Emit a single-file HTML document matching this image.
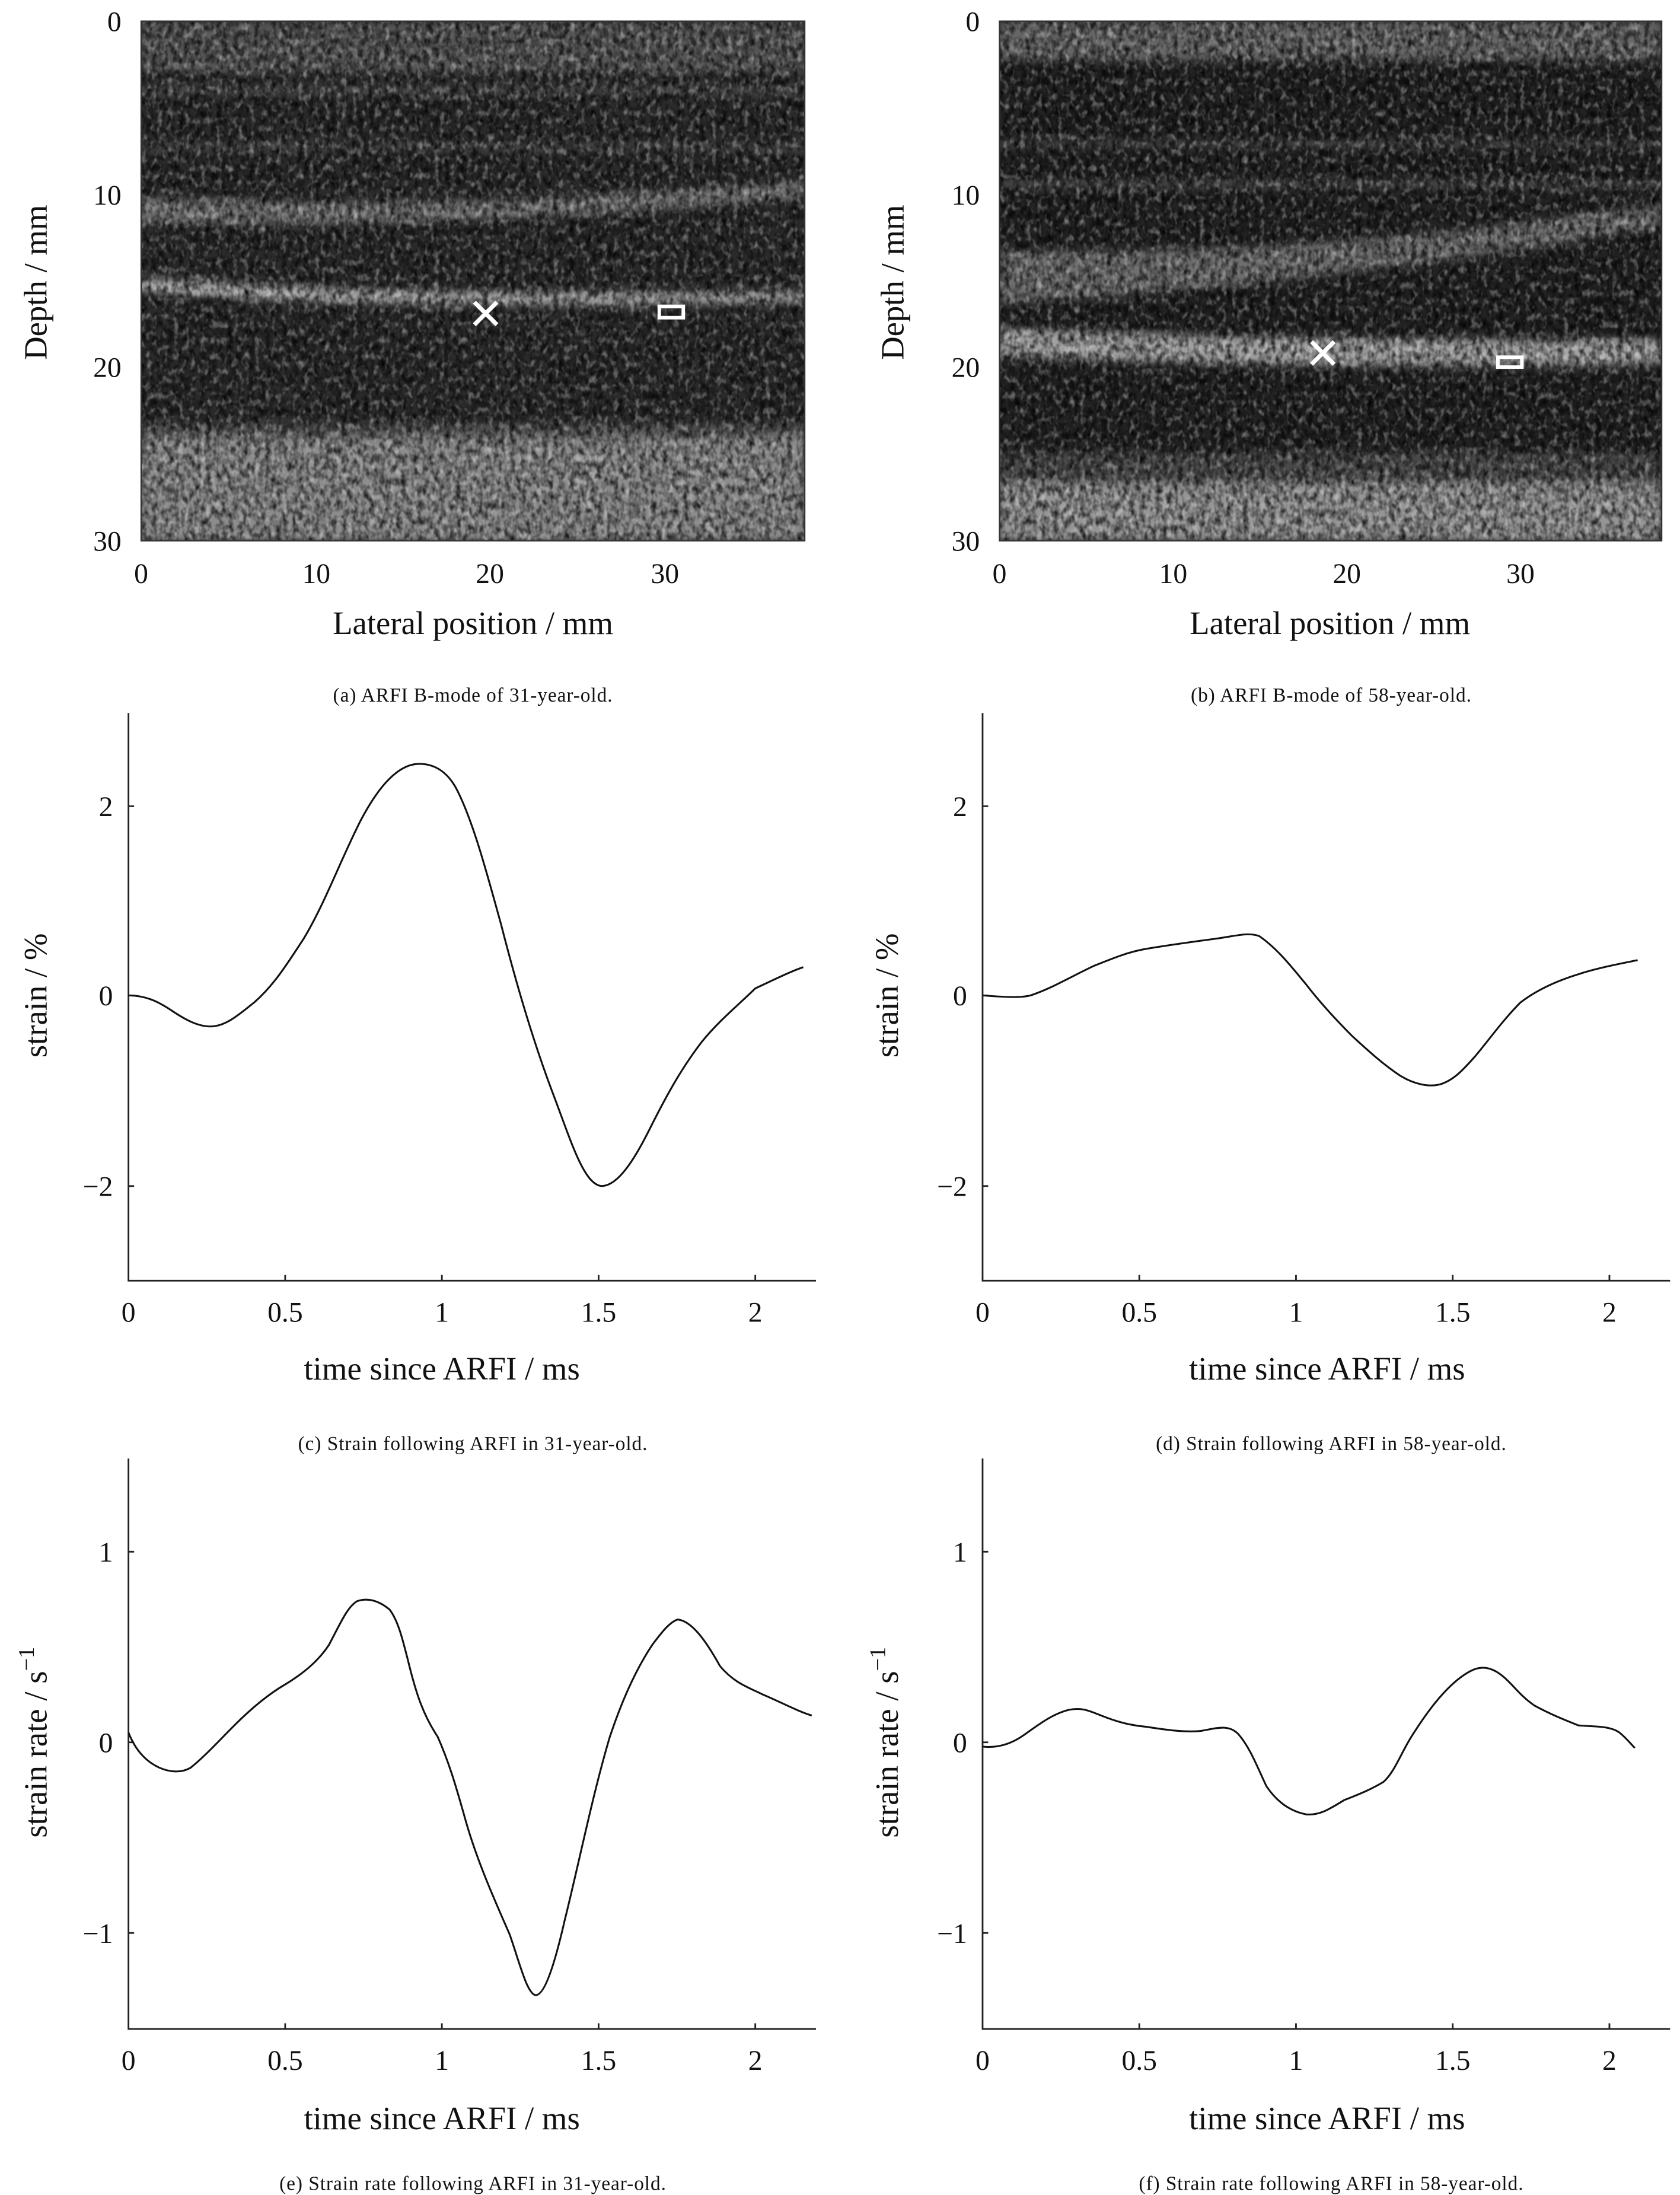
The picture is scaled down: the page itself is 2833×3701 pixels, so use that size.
<!DOCTYPE html>
<html><head><meta charset="utf-8"><style>
html,body{margin:0;padding:0;background:#fff;}
svg{display:block;}
text{font-family:"Liberation Serif",serif;fill:#111;}
</style></head><body>
<svg width="2833" height="3701" viewBox="0 0 1190 1554.6" xmlns="http://www.w3.org/2000/svg">
<defs>
<filter id="noise" x="0" y="0" width="100%" height="100%">
<feTurbulence type="fractalNoise" baseFrequency="0.26 0.18" numOctaves="2" seed="3"/>
<feColorMatrix type="matrix" values="0 0 0 0 0  0 0 0 0 0  0 0 0 0 0  -1.6 0 0 0 1.05" />
</filter>
<filter id="noise2" x="0" y="0" width="100%" height="100%">
<feTurbulence type="fractalNoise" baseFrequency="0.26 0.18" numOctaves="2" seed="11"/>
<feColorMatrix type="matrix" values="0 0 0 0 1  0 0 0 0 1  0 0 0 0 1  1.0 0 0 0 -0.5" />
</filter>
<filter id="blur"><feGaussianBlur stdDeviation="3"/></filter>
<clipPath id="ca"><rect x="100" y="15" width="470" height="368"/></clipPath>
<clipPath id="cb"><rect x="708" y="15" width="469" height="368"/></clipPath>
</defs>

<g clip-path="url(#ca)">
<rect x="100" y="15" width="470" height="368" fill="#2a2a2a"/>
<g filter="url(#blur)" fill="#8a8a8a">
<rect x="100" y="15" width="470" height="30" fill="#555"/>
<rect x="100" y="46" width="470" height="5" opacity="0.6"/>
<rect x="100" y="62" width="470" height="4" opacity="0.6"/>
<rect x="100" y="102" width="470" height="4" opacity="0.5"/>
<path d="M100 140 Q330 150 570 128 L570 140 Q330 162 100 158Z" opacity="0.8"/>
<path d="M100 196 Q250 210 570 207 L570 214 Q250 220 100 206Z" fill="#aaa"/>
<rect x="100" y="300" width="470" height="12" fill="#555"/>
<rect x="100" y="310" width="470" height="73" fill="#8c8c8c"/>
</g>
<rect x="100" y="15" width="470" height="368" filter="url(#noise)" fill="#000"/>
<rect x="100" y="15" width="470" height="368" filter="url(#noise2)" fill="#fff"/>
</g>
<g stroke="#fff" stroke-width="3" fill="none">
<path d="M336 214 L352 230 M352 214 L336 230"/>
<rect x="467" y="217" width="17" height="8" stroke-width="2.5"/>
</g>

<g clip-path="url(#cb)">
<rect x="708" y="15" width="469" height="368" fill="#222"/>
<g filter="url(#blur)" fill="#8a8a8a">
<rect x="708" y="15" width="469" height="28" fill="#666"/>
<rect x="708" y="100" width="469" height="4" opacity="0.5"/>
<rect x="708" y="128" width="469" height="5" opacity="0.5"/>
<path d="M708 178 Q900 180 1060 160 L1177 145 L1177 160 Q950 200 708 215Z" opacity="0.75"/>
<path d="M708 232 Q900 242 1177 240 L1177 258 Q900 262 708 252Z" fill="#a0a0a0"/>
<rect x="708" y="320" width="469" height="22" fill="#4a4a4a"/>
<rect x="708" y="342" width="469" height="41" fill="#959595"/>
</g>
<rect x="708" y="15" width="469" height="368" filter="url(#noise)" fill="#000"/>
<rect x="708" y="15" width="469" height="368" filter="url(#noise2)" fill="#fff"/>
</g>
<g stroke="#fff" stroke-width="3" fill="none">
<path d="M929 242 L945 258 M945 242 L929 258"/>
<rect x="1061" y="253" width="17" height="7" stroke-width="2.5"/>
</g>

<g stroke="#333" stroke-width="1" fill="none">
<rect x="100" y="15" width="470" height="368"/>
<rect x="708" y="15" width="469" height="368"/>
</g>

<g font-size="20">
<g text-anchor="end">
<text x="86" y="22">0</text><text x="86" y="145">10</text><text x="86" y="267">20</text><text x="86" y="390">30</text>
<text x="694" y="22">0</text><text x="694" y="145">10</text><text x="694" y="267">20</text><text x="694" y="390">30</text>
</g>
<g text-anchor="middle">
<text x="100" y="413">0</text><text x="224" y="413">10</text><text x="347" y="413">20</text><text x="471" y="413">30</text>
<text x="708" y="413">0</text><text x="831" y="413">10</text><text x="954" y="413">20</text><text x="1077" y="413">30</text>
</g>
</g>
<g font-size="23" text-anchor="middle">
<text x="335" y="449">Lateral position / mm</text>
<text x="942" y="449">Lateral position / mm</text>
<text transform="translate(33,200) rotate(-90)">Depth / mm</text>
<text transform="translate(640,200) rotate(-90)">Depth / mm</text>
</g>
<g font-size="14" text-anchor="middle" letter-spacing="0.4">
<text x="335" y="497">(a) ARFI B-mode of 31-year-old.</text>
<text x="943" y="497">(b) ARFI B-mode of 58-year-old.</text>
<text x="335" y="1027">(c) Strain following ARFI in 31-year-old.</text>
<text x="943" y="1027">(d) Strain following ARFI in 58-year-old.</text>
<text x="335" y="1551">(e) Strain rate following ARFI in 31-year-old.</text>
<text x="943" y="1551">(f) Strain rate following ARFI in 58-year-old.</text>
</g>

<g stroke="#222" stroke-width="1.2" fill="none">
<path d="M91 505 L91 907 L578 907"/>
<path d="M696 505 L696 907 L1183 907"/>
<path d="M91 1033 L91 1437 L578 1437"/>
<path d="M696 1033 L696 1437 L1183 1437"/>
<path d="M91 571h4M91 705h4M91 840h4 M202 907v-4M313 907v-4M424 907v-4M535 907v-4"/>
<path d="M696 571h4M696 705h4M696 840h4 M807 907v-4M918 907v-4M1029 907v-4M1140 907v-4"/>
<path d="M91 1099h4M91 1234h4M91 1369h4 M202 1437v-4M313 1437v-4M424 1437v-4M535 1437v-4"/>
<path d="M696 1099h4M696 1234h4M696 1369h4 M807 1437v-4M918 1437v-4M1029 1437v-4M1140 1437v-4"/>
</g>
<g font-size="20" text-anchor="end">
<text x="80" y="578">2</text><text x="80" y="712">0</text><text x="80" y="847">−2</text>
<text x="685" y="578">2</text><text x="685" y="712">0</text><text x="685" y="847">−2</text>
<text x="80" y="1106">1</text><text x="80" y="1241">0</text><text x="80" y="1376">−1</text>
<text x="685" y="1106">1</text><text x="685" y="1241">0</text><text x="685" y="1376">−1</text>
</g>
<g font-size="20" text-anchor="middle">
<text x="91" y="936">0</text><text x="202" y="936">0.5</text><text x="313" y="936">1</text><text x="424" y="936">1.5</text><text x="535" y="936">2</text>
<text x="696" y="936">0</text><text x="807" y="936">0.5</text><text x="918" y="936">1</text><text x="1029" y="936">1.5</text><text x="1140" y="936">2</text>
<text x="91" y="1466">0</text><text x="202" y="1466">0.5</text><text x="313" y="1466">1</text><text x="424" y="1466">1.5</text><text x="535" y="1466">2</text>
<text x="696" y="1466">0</text><text x="807" y="1466">0.5</text><text x="918" y="1466">1</text><text x="1029" y="1466">1.5</text><text x="1140" y="1466">2</text>
</g>
<g font-size="23" text-anchor="middle">
<text x="313" y="977">time since ARFI / ms</text>
<text x="940" y="977">time since ARFI / ms</text>
<text x="313" y="1508">time since ARFI / ms</text>
<text x="940" y="1508">time since ARFI / ms</text>
<text transform="translate(33,705) rotate(-90)">strain / %</text>
<text transform="translate(636,705) rotate(-90)">strain / %</text>
<text transform="translate(33,1234) rotate(-90)">strain rate / s<tspan font-size="16" dy="-9">−1</tspan></text>
<text transform="translate(636,1234) rotate(-90)">strain rate / s<tspan font-size="16" dy="-9">−1</tspan></text>
</g>

<g stroke="#111" stroke-width="1.3" fill="none" stroke-linejoin="round">
<path d="M91 705 C104 705 113 710 122 716 C131 722 140 727 149 727 C160 727 170 718 180 710 C195 697 205 680 215 665 C230 640 240 612 255 582 C268 557 282 541 297 541 C309 541 318 548 324 560 C335 582 344 615 355 655 C366 698 378 739 393 778 C405 810 414 839 426 840 C438 840 450 820 460 800 C474 772 484 755 497 738 C510 722 524 711 535 700 C548 694 560 688 569 685"/>
<path d="M696 705 C710 706 722 707 730 705 C745 700 758 692 775 684 C790 678 800 674 812 672 C830 669 845 667 860 665 C875 663 884 660 892 663 C905 672 915 685 925 697 C935 710 945 721 958 734 C970 745 980 754 992 762 C1002 768 1012 770 1020 768 C1030 765 1037 757 1045 748 C1055 736 1065 722 1077 710 C1090 700 1105 694 1118 690 C1130 686 1145 683 1160 680"/>
<path d="M91 1227 C96 1240 104 1248 113 1252 C120 1255 128 1256 135 1252 C145 1244 155 1233 166 1222 C178 1210 190 1200 202 1193 C215 1185 225 1177 233 1165 C241 1150 246 1138 253 1134 C262 1131 270 1135 276 1140 C282 1148 285 1160 290 1180 C295 1200 300 1215 310 1230 C318 1248 323 1265 330 1290 C338 1318 350 1345 361 1370 C368 1390 373 1411 379 1413 C385 1414 392 1395 400 1360 C410 1320 420 1270 432 1230 C442 1200 452 1180 462 1165 C468 1157 474 1149 480 1147 C490 1148 500 1162 510 1180 C520 1192 530 1195 540 1200 C552 1205 565 1212 575 1215"/>
<path d="M696 1237 C705 1238 715 1236 725 1229 C735 1222 745 1214 757 1211 C767 1209 772 1212 780 1215 C790 1219 800 1222 812 1223 C825 1225 838 1227 850 1226 C862 1224 870 1221 877 1228 C885 1237 890 1250 897 1265 C905 1277 915 1283 925 1285 C935 1286 942 1281 952 1275 C962 1271 970 1268 980 1262 C988 1255 993 1240 1001 1228 C1010 1214 1020 1200 1032 1190 C1042 1182 1050 1178 1060 1184 C1070 1190 1075 1200 1087 1208 C1098 1214 1108 1218 1118 1222 C1128 1223 1140 1222 1147 1227 C1152 1231 1155 1235 1158 1238"/>
</g>
</svg>
</body></html>
